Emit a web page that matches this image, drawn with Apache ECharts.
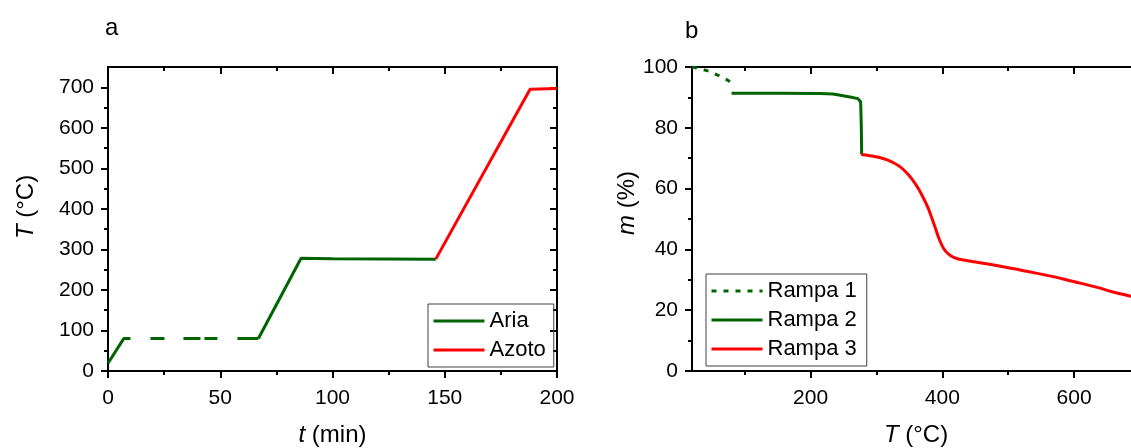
<!DOCTYPE html>
<html>
<head>
<meta charset="utf-8">
<script src="https://cdn.jsdelivr.net/npm/echarts@6/dist/echarts.min.js"></script>
<style>
  html, body { margin: 0; padding: 0; background: #fff; }
  #main { width: 1131px; height: 448px; }
</style>
</head>
<body>
<div id="main"></div>
<script>
// --- panel a: temperature program T(t) ---
const tRamp1 = [0, 7, 10];
const TRamp1 = [19, 80, 80];
const tHold = [10, 67];           // isothermal hold, drawn dashed
const THold = [80, 80];
const tRamp2 = [67, 86, 100, 146];
const TRamp2 = [80, 278, 277, 276];
const tAzoto = [146, 188, 200];
const TAzoto = [276, 695, 697];

const aYTicks = [0, 100, 200, 300, 400, 500, 600, 700];
const aYMinor = [50, 150, 250, 350, 450, 550, 650];

// --- panel b: mass loss m(T) ---
const TRampa1 = [20, 30, 41, 50, 58, 67, 76, 79, 82];
const mRampa1 = [100, 99.5, 98.9, 98.3, 97.4, 96.6, 95.4, 94.9, 94.4];
const TRampa2 = [80, 150, 214, 234, 245, 260, 272, 276, 277, 277.5];
const mRampa2 = [91.4, 91.4, 91.3, 91.1, 90.7, 90.1, 89.6, 88.5, 80, 71.2];
const TRampa3 = [277, 290, 310, 325, 335, 345, 355, 363, 371, 378, 384, 390, 396, 402,
                 409, 418, 432, 455, 480, 507, 530, 558, 585, 609, 635, 659, 686, 700];
const mRampa3 = [71.2, 70.8, 69.9, 68.6, 67.3, 65.4, 62.8, 60.2, 57.0, 53.8, 50.3, 46.6, 43.0, 40.3,
                 38.5, 37.3, 36.5, 35.7, 34.8, 33.7, 32.7, 31.5, 30.2, 28.9, 27.5, 26.0, 24.6, 23.8];

const bXTicks = [200, 400, 600];
const bXMinor = [100, 300, 500];

const FONT = '"Liberation Sans", Arial, sans-serif';
const GREEN = '#006400';
const RED = '#ff0000';

function pair(xs, ys) {
  return xs.map((x, i) => [x, ys[i]]);
}

const black = { color: '#000', width: 2 };
const noLabel = { show: false };
const xLabel = { fontSize: 21, color: '#000', fontFamily: FONT, margin: 17 };
const yLabel = { fontSize: 21, color: '#000', fontFamily: FONT, margin: 14 };
function nameStyle(pad) {
  return {
    fontSize: 24, color: '#000', fontFamily: FONT, padding: pad,
    rich: { i: { fontSize: 24, fontStyle: 'italic', color: '#000', fontFamily: FONT } }
  };
}

// one axis: main frame line + ticks, or only extra (minor) ticks
function ax(opt) {
  return Object.assign({
    type: 'value',
    splitLine: { show: false },
    axisLine: { show: true, onZero: false, lineStyle: black },
    axisTick: { length: 7, lineStyle: black },
    axisLabel: noLabel
  }, opt);
}

const chart = echarts.init(document.getElementById('main'));

chart.setOption({
  animation: false,
  backgroundColor: '#fff',
  title: [
    { text: 'a', left: 105, top: 16, padding: 0,
      textStyle: { fontSize: 24, fontWeight: 'normal', color: '#000', fontFamily: FONT } },
    { text: 'b', left: 685, top: 19, padding: 0,
      textStyle: { fontSize: 24, fontWeight: 'normal', color: '#000', fontFamily: FONT } }
  ],
  grid: [
    { left: 108, top: 67, width: 449, height: 304, outerBoundsMode: 'none', containLabel: false },
    { left: 692, top: 67, width: 448, height: 304, outerBoundsMode: 'none', containLabel: false }
  ],
  xAxis: [
    ax({ gridIndex: 0, position: 'bottom', min: 0, max: 200, interval: 50,
         minorTick: { show: true, splitNumber: 2, length: 4, lineStyle: black },
         axisLabel: xLabel,
         name: '{i|t} (min)', nameLocation: 'middle', nameGap: 52, nameTextStyle: nameStyle(0) }),
    ax({ gridIndex: 0, position: 'top', min: 0, max: 200, interval: 50,
         axisTick: { inside: true, length: 7, lineStyle: black },
         minorTick: { show: true, splitNumber: 2, length: 4, lineStyle: black } }),
    ax({ gridIndex: 1, position: 'bottom', min: 20, max: 700,
         axisTick: { length: 7, lineStyle: black, customValues: bXTicks },
         axisLabel: Object.assign({ customValues: bXTicks }, xLabel),
         name: '{i|T} (°C)', nameLocation: 'middle', nameGap: 52, nameTextStyle: nameStyle(0) }),
    ax({ gridIndex: 1, position: 'bottom', min: 20, max: 700,
         axisLine: { show: false, onZero: false },
         axisTick: { length: 4, lineStyle: black, customValues: bXMinor } }),
    ax({ gridIndex: 1, position: 'top', min: 20, max: 700,
         axisTick: { inside: true, length: 7, lineStyle: black, customValues: bXTicks } }),
    ax({ gridIndex: 1, position: 'top', min: 20, max: 700,
         axisLine: { show: false, onZero: false },
         axisTick: { inside: true, length: 4, lineStyle: black, customValues: bXMinor } })
  ],
  yAxis: [
    ax({ gridIndex: 0, position: 'left', min: 0, max: 750,
         axisTick: { length: 7, lineStyle: black, customValues: aYTicks },
         axisLabel: Object.assign({ customValues: aYTicks }, yLabel),
         name: '{i|T} (°C)', nameLocation: 'middle', nameGap: 70, nameTextStyle: nameStyle([0, 0, 0, 24]) }),
    ax({ gridIndex: 0, position: 'left', min: 0, max: 750,
         axisLine: { show: false, onZero: false },
         axisTick: { length: 4, lineStyle: black, customValues: aYMinor } }),
    ax({ gridIndex: 0, position: 'right', min: 0, max: 750,
         axisTick: { inside: true, length: 7, lineStyle: black, customValues: aYTicks } }),
    ax({ gridIndex: 0, position: 'right', min: 0, max: 750,
         axisLine: { show: false, onZero: false },
         axisTick: { inside: true, length: 4, lineStyle: black, customValues: aYMinor } }),
    ax({ gridIndex: 1, position: 'left', min: 0, max: 100, interval: 20,
         minorTick: { show: true, splitNumber: 2, length: 4, lineStyle: black },
         axisLabel: yLabel,
         name: '{i|m} (%)', nameLocation: 'middle', nameGap: 45, nameTextStyle: nameStyle([0, 0, 0, 32]) })
  ],
  legend: [
    { data: ['Aria', 'Azoto'], orient: 'vertical', left: 428, top: 304,
      padding: [5, 8, 5, 4], itemGap: 5, itemWidth: 51, itemHeight: 14,
      borderColor: '#404040', borderWidth: 1, selectedMode: false,
      itemStyle: { opacity: 0 }, lineStyle: { width: 3 },
      textStyle: { fontSize: 22, lineHeight: 24, color: '#000', fontFamily: FONT } },
    { data: ['Rampa 1', 'Rampa 2', 'Rampa 3'], orient: 'vertical', left: 706, top: 274,
      padding: [5, 10, 5, 4], itemGap: 5, itemWidth: 51, itemHeight: 14,
      borderColor: '#404040', borderWidth: 1, selectedMode: false,
      itemStyle: { opacity: 0 }, lineStyle: { width: 3 },
      textStyle: { fontSize: 22, lineHeight: 24, color: '#000', fontFamily: FONT } }
  ],
  series: [
    { name: 'Aria', type: 'line', xAxisIndex: 0, yAxisIndex: 0, symbol: 'none',
      data: pair(tRamp1, TRamp1), itemStyle: { color: GREEN },
      lineStyle: { color: GREEN, width: 3 } },
    { name: 'Aria', type: 'line', xAxisIndex: 0, yAxisIndex: 0, symbol: 'none',
      data: pair(tHold, THold), itemStyle: { color: GREEN },
      lineStyle: { color: GREEN, width: 3, type: [14, 19, 17, 4, 13, 20, 21, 20], dashOffset: 108, cap: 'butt' } },
    { name: 'Aria', type: 'line', xAxisIndex: 0, yAxisIndex: 0, symbol: 'none',
      data: pair(tRamp2, TRamp2), itemStyle: { color: GREEN },
      lineStyle: { color: GREEN, width: 3 } },
    { name: 'Azoto', type: 'line', xAxisIndex: 0, yAxisIndex: 0, symbol: 'none',
      data: pair(tAzoto, TAzoto), itemStyle: { color: RED },
      lineStyle: { color: RED, width: 3 } },
    { name: 'Rampa 1', type: 'line', xAxisIndex: 2, yAxisIndex: 4, symbol: 'none',
      data: pair(TRampa1, mRampa1), itemStyle: { color: GREEN },
      lineStyle: { color: GREEN, width: 3, type: [5, 7], cap: 'butt' } },
    { name: 'Rampa 2', type: 'line', xAxisIndex: 2, yAxisIndex: 4, symbol: 'none',
      data: pair(TRampa2, mRampa2), itemStyle: { color: GREEN },
      lineStyle: { color: GREEN, width: 3 } },
    { name: 'Rampa 3', type: 'line', xAxisIndex: 2, yAxisIndex: 4, symbol: 'none', smooth: 0.5,
      data: pair(TRampa3, mRampa3), itemStyle: { color: RED },
      lineStyle: { color: RED, width: 3 } }
  ]
});

window.addEventListener('resize', function () {
  chart.resize();
});
</script>
</body>
</html>
